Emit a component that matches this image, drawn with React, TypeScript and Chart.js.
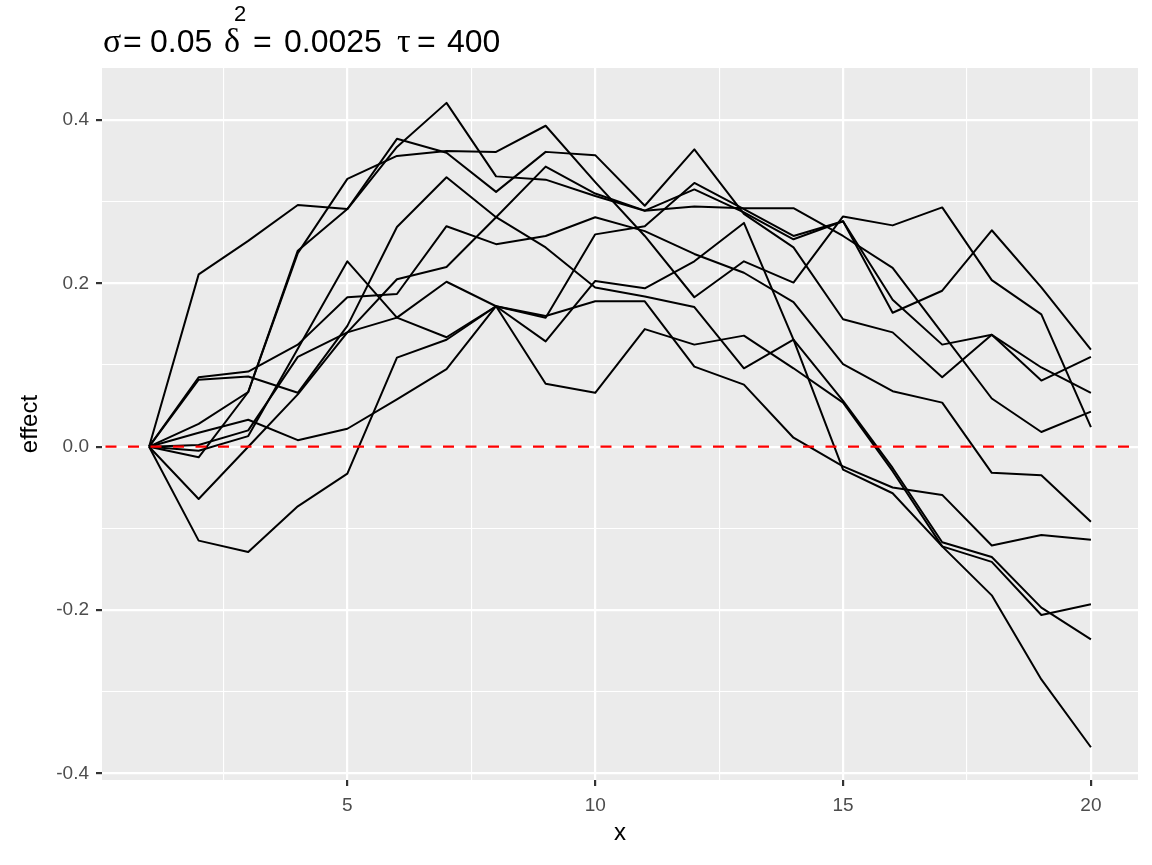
import React, { useEffect, useRef } from "react";
import { Chart, registerables } from "chart.js";

Chart.register(...registerables);

// ---------------- data ----------------
const xValues = [1, 2, 3, 4, 5, 6, 7, 8, 9, 10, 11, 12, 13, 14, 15, 16, 17, 18, 19, 20];

const series01 = [0, 0.211, 0.252, 0.296, 0.291, 0.367, 0.421, 0.331, 0.327, 0.307, 0.289, 0.315, 0.287, 0.254, 0.276, 0.180, 0.125, 0.137, 0.097, 0.066];
const series02 = [0, 0.028, 0.067, 0.240, 0.291, 0.377, 0.360, 0.312, 0.361, 0.357, 0.295, 0.364, 0.285, 0.244, 0.156, 0.140, 0.085, 0.137, 0.081, 0.110];
const series03 = [0, -0.013, 0.067, 0.237, 0.328, 0.356, 0.362, 0.361, 0.393, 0.324, 0.258, 0.183, 0.227, 0.201, 0.282, 0.271, 0.293, 0.204, 0.162, 0.024];
const series04 = [0, 0.085, 0.092, 0.125, 0.183, 0.187, 0.270, 0.248, 0.258, 0.281, 0.264, 0.236, 0.213, 0.177, 0.101, 0.068, 0.054, -0.032, -0.035, -0.092];
const series05 = [0, 0.082, 0.086, 0.066, 0.148, 0.269, 0.330, 0.281, 0.244, 0.195, 0.184, 0.171, 0.096, 0.131, 0.056, -0.026, -0.117, -0.135, -0.197, -0.236];
const series06 = [0, -0.064, 0.000, 0.064, 0.140, 0.205, 0.220, 0.281, 0.343, 0.310, 0.289, 0.294, 0.292, 0.292, 0.258, 0.219, 0.139, 0.059, 0.018, 0.043];
const series07 = [0, -0.005, 0.013, 0.120, 0.227, 0.158, 0.202, 0.172, 0.129, 0.203, 0.194, 0.227, 0.274, 0.131, -0.028, -0.057, -0.122, -0.182, -0.285, -0.368];
const series08 = [0, 0.017, 0.033, 0.008, 0.022, 0.058, 0.095, 0.172, 0.077, 0.066, 0.144, 0.125, 0.136, 0.096, 0.054, -0.030, -0.122, -0.141, -0.206, -0.193];
const series09 = [0, -0.115, -0.129, -0.073, -0.033, 0.109, 0.131, 0.172, 0.158, 0.260, 0.270, 0.323, 0.291, 0.258, 0.276, 0.164, 0.191, 0.265, 0.195, 0.119];
const series10 = [0, 0.002, 0.020, 0.110, 0.140, 0.158, 0.134, 0.172, 0.160, 0.178, 0.178, 0.098, 0.076, 0.011, -0.024, -0.050, -0.059, -0.121, -0.108, -0.114];

const allSeries = [series01, series02, series03, series04, series05, series06, series07, series08, series09, series10];

const xMajorTicks = [5, 10, 15, 20];
const xMinorTicks = [2.5, 7.5, 12.5, 17.5];
const xTickLabels = ["5", "10", "15", "20"];
const yMajorTicks = [-0.4, -0.2, 0, 0.2, 0.4];
const yMinorTicks = [-0.3, -0.1, 0.1, 0.3];
const yTickLabels = ["-0.4", "-0.2", "0.0", "0.2", "0.4"];

const xLimits = [0.05, 20.95];
const yLimits = [-0.4081, 0.4637];
const referenceY = 0;

const xAxisTitle = "x";
const yAxisTitle = "effect";

// title pieces: text, family kind, left x
const titlePieces: [string, "serif" | "sans", number][] = [
  ["σ", "serif", 103],
  ["=", "sans", 123],
  ["0.05", "sans", 150],
  ["δ", "serif", 224],
  ["=", "sans", 253],
  ["0.0025", "sans", 284],
  ["τ", "serif", 397],
  ["=", "sans", 417],
  ["400", "sans", 447],
];
const titleSuperscript = "2";

// ---------------- style ----------------
const SANS = '"Liberation Sans", Arial, Helvetica, sans-serif';
const SERIF = '"Liberation Serif", "DejaVu Serif", serif';
const PANEL_BG = "#EBEBEB";
const TICK_TEXT = "#4D4D4D";
const TICK_MARK = "#333333";

const CANVAS_W = 1152;
const CANVAS_H = 865;
const PANEL_LEFT = 102;
const PANEL_RIGHT = 1138;
const PANEL_TOP = 68;
const PANEL_BOTTOM = 780;

const isIn = (arr: number[], v: number) => arr.some((a) => Math.abs(a - v) < 1e-9);

const decorPlugin = {
  id: "ggDecor",
  beforeDraw(chart: any) {
    const { ctx, chartArea } = chart;
    ctx.save();
    ctx.fillStyle = PANEL_BG;
    ctx.fillRect(chartArea.left, chartArea.top, chartArea.right - chartArea.left, chartArea.bottom - chartArea.top);
    ctx.restore();
  },
  afterDraw(chart: any) {
    const { ctx, chartArea } = chart;
    ctx.save();
    ctx.fillStyle = "#000000";
    ctx.textBaseline = "alphabetic";
    ctx.textAlign = "left";
    const base = 52;
    for (const [txt, kind, x] of titlePieces) {
      ctx.font = kind === "serif" ? `34px ${SERIF}` : `32px ${SANS}`;
      ctx.fillText(txt, x, base);
    }
    ctx.font = `22px ${SANS}`;
    ctx.fillText(titleSuperscript, 234, 21);

    // axis titles
    ctx.font = `24px ${SANS}`;
    ctx.textAlign = "center";
    ctx.textBaseline = "middle";
    ctx.fillText(xAxisTitle, (chartArea.left + chartArea.right) / 2, 833);
    ctx.translate(30, (chartArea.top + chartArea.bottom) / 2);
    ctx.rotate(-Math.PI / 2);
    ctx.fillText(yAxisTitle, 0, 0);
    ctx.restore();
  },
};

export default function App() {
  const canvasRef = useRef<HTMLCanvasElement | null>(null);

  useEffect(() => {
    if (!canvasRef.current) return;

    const lineSets = allSeries.map((s, i) => ({
      label: `run ${i + 1}`,
      data: xValues.map((x, j) => ({ x, y: s[j] })),
      borderColor: "#000000",
      borderWidth: 2,
      pointRadius: 0,
      tension: 0,
      fill: false,
      borderJoinStyle: "round" as const,
      order: 1,
    }));

    const refSet = {
      label: "zero",
      data: [
        { x: xLimits[0], y: referenceY },
        { x: xLimits[1], y: referenceY },
      ],
      borderColor: "#FF0000",
      borderWidth: 2.2,
      borderDash: [11, 11.5],
      borderDashOffset: 19,
      pointRadius: 0,
      fill: false,
      order: 0,
    };

    const chart = new Chart(canvasRef.current, {
      type: "line",
      data: { datasets: [refSet, ...lineSets] as any },
      options: {
        animation: false,
        responsive: false,
        maintainAspectRatio: false,
        events: [],
        layout: {
          padding: { left: 0, top: PANEL_TOP, right: CANVAS_W - PANEL_RIGHT, bottom: 0 },
        },
        plugins: {
          legend: { display: false },
          title: { display: false },
          tooltip: { enabled: false },
        },
        scales: {
          x: {
            type: "linear",
            min: xLimits[0],
            max: xLimits[1],
            afterBuildTicks: (scale: any) => {
              scale.ticks = [...xMinorTicks, ...xMajorTicks].sort((a, b) => a - b).map((v) => ({ value: v }));
            },
            afterFit: (scale: any) => {
              scale.height = CANVAS_H - PANEL_BOTTOM;
            },
            ticks: {
              autoSkip: false,
              maxRotation: 0,
              minRotation: 0,
              color: TICK_TEXT,
              padding: 8,
              font: { family: SANS, size: 19 },
              callback: (v: any) => {
                const i = xMajorTicks.findIndex((m) => Math.abs(m - v) < 1e-9);
                return i >= 0 ? xTickLabels[i] : "";
              },
            },
            grid: {
              color: "#FFFFFF",
              lineWidth: (ctx: any) => (isIn(xMajorTicks, ctx.tick?.value) ? 2.2 : 1.1),
              tickColor: (ctx: any) => (isIn(xMajorTicks, ctx.tick?.value) ? TICK_MARK : "rgba(0,0,0,0)"),
              tickLength: 6,
              tickWidth: 2.2,
              drawTicks: true,
            },
            border: { display: false },
          },
          y: {
            type: "linear",
            min: yLimits[0],
            max: yLimits[1],
            afterBuildTicks: (scale: any) => {
              scale.ticks = [...yMinorTicks, ...yMajorTicks].sort((a, b) => a - b).map((v) => ({ value: v }));
            },
            afterFit: (scale: any) => {
              scale.width = PANEL_LEFT;
            },
            ticks: {
              autoSkip: false,
              color: TICK_TEXT,
              padding: 7,
              font: { family: SANS, size: 19 },
              callback: (v: any) => {
                const i = yMajorTicks.findIndex((m) => Math.abs(m - v) < 1e-9);
                return i >= 0 ? yTickLabels[i] : "";
              },
            },
            grid: {
              color: "#FFFFFF",
              lineWidth: (ctx: any) => (isIn(yMajorTicks, ctx.tick?.value) ? 2.2 : 1.1),
              tickColor: (ctx: any) => (isIn(yMajorTicks, ctx.tick?.value) ? TICK_MARK : "rgba(0,0,0,0)"),
              tickLength: 6,
              tickWidth: 2.2,
              drawTicks: true,
            },
            border: { display: false },
          },
        },
      } as any,
      plugins: [decorPlugin],
    });

    return () => chart.destroy();
  }, []);

  return (
    <div style={{ position: "fixed", left: 0, top: 0, width: CANVAS_W, height: CANVAS_H, background: "#FFFFFF" }}>
      <canvas ref={canvasRef} width={CANVAS_W} height={CANVAS_H} style={{ width: CANVAS_W, height: CANVAS_H, display: "block" }} />
    </div>
  );
}
